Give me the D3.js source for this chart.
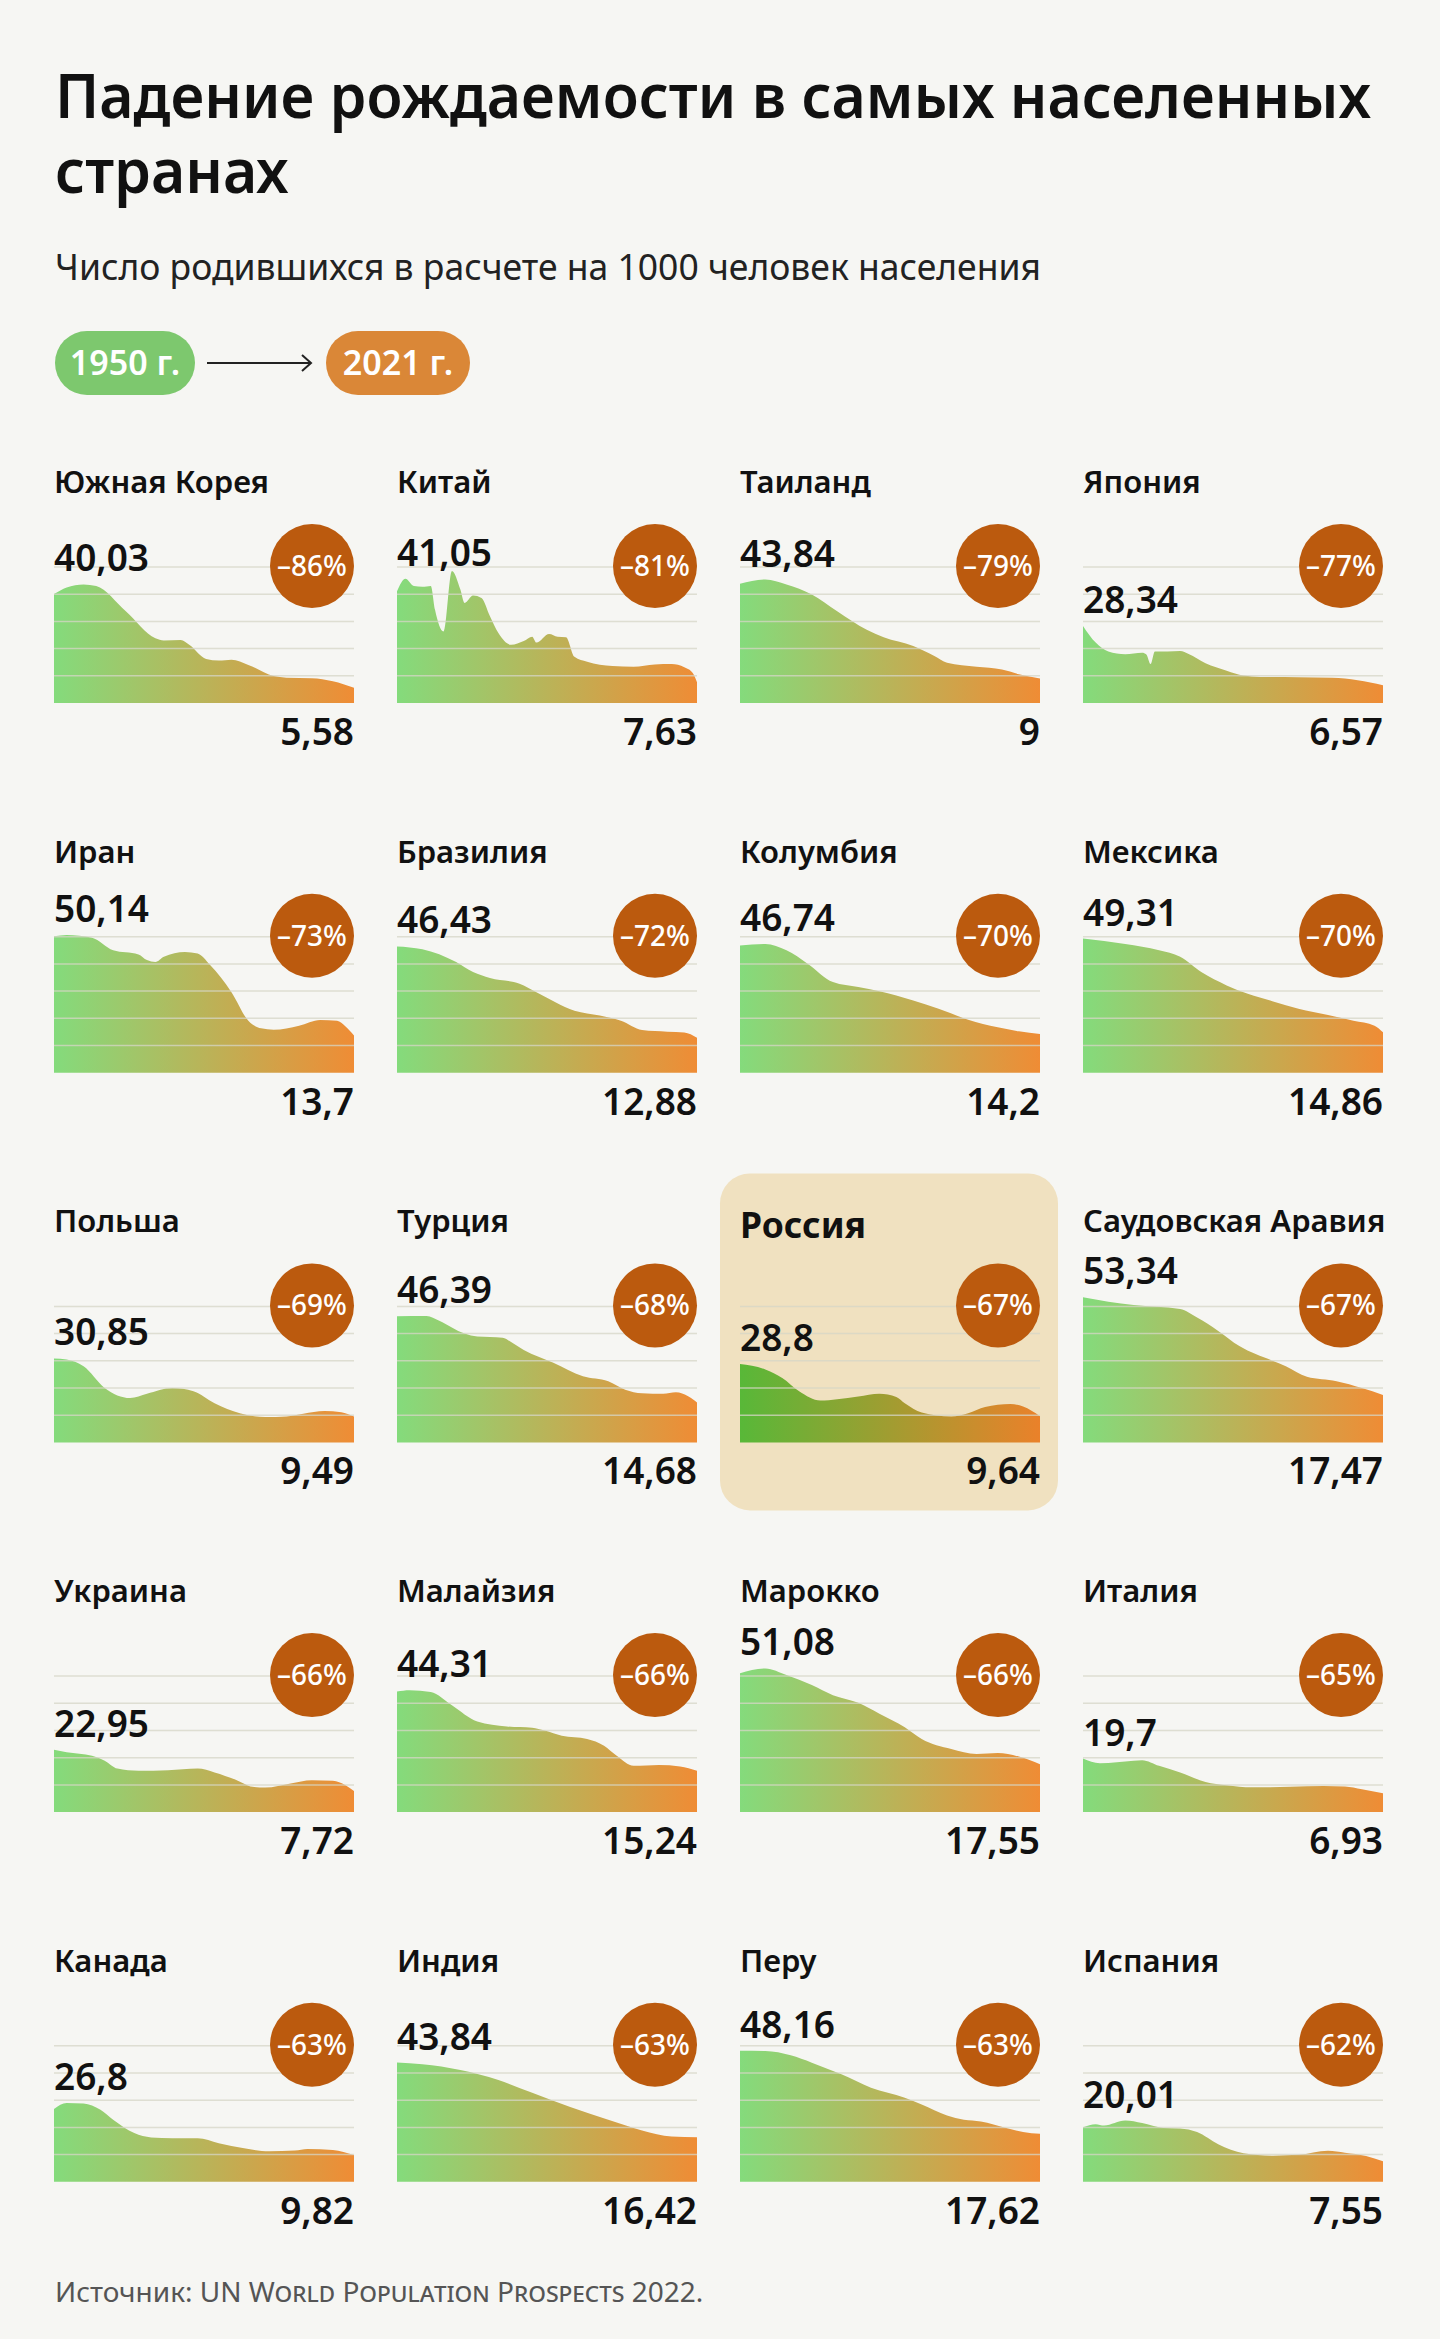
<!DOCTYPE html>
<html>
<head>
<meta charset="utf-8">
<script src="https://cdn.jsdelivr.net/npm/d3@7"></script>
<style>
    body { margin: 0; background: #f6f6f3; }
    text { font-family: "Noto Sans", sans-serif; }
</style>
</head>
<body>
<svg id="chart"></svg>
<script>
// рождаемость на 1000 человек, [год, значение]
var southKorea = [[1950,40.03],[1953,42.5],[1957,43.6],[1960,43],[1967,33.7],[1974,23.8],[1976,23],[1980,23.2],[1982,21.4],[1986,16.2],[1989,15.6],[1992,15.9],[1996,14],[2002,9.9],[2005,9.3],[2011,9.1],[2016,8],[2021,5.58]];
var china = [[1950,41.05],[1952,45.7],[1954,43],[1956,42.7],[1958,43],[1959,34.3],[1961,26.3],[1963,48.5],[1965,41.7],[1966,36.8],[1968,39.5],[1970,38.6],[1972,31.9],[1974,25.7],[1977,21.4],[1980,22.8],[1982,24.4],[1983,22.2],[1986,25.4],[1988,24.4],[1990,24.2],[1992,17],[1995,15.2],[2001,13.6],[2006,13.3],[2011,14.2],[2015,14.3],[2018,13.1],[2020,11],[2021,7.63]];
var thailand = [[1950,43.84],[1956,45.4],[1961,43.6],[1967,39.9],[1973,33.7],[1980,26.9],[1984,24.2],[1991,21],[1996,17.3],[1999,14.8],[2006,13.3],[2012,12.3],[2016,10.6],[2021,9]];
var japan = [[1950,28.34],[1953,22.2],[1956,18.9],[1960,17.9],[1964,18.5],[1965,17.8],[1966,14.3],[1967,18.9],[1970,18.9],[1973,19.1],[1975,18],[1979,14.6],[1984,11.9],[1988,10.1],[1992,9.6],[2001,9.5],[2009,9.3],[2015,8.4],[2021,6.57]];
var iran = [[1950,50.14],[1953,50.6],[1959,49.6],[1964,45],[1970,43.5],[1972,41.4],[1974,40.7],[1976,42.6],[1981,44.4],[1984,43.8],[1987,39.5],[1992,29.6],[1996,19.1],[1999,16.3],[2002,15.8],[2008,17.3],[2013,19.4],[2017,19.1],[2019,17],[2021,13.7]];
var brazil = [[1950,46.43],[1956,45.4],[1964,40.7],[1968,37],[1972,34.8],[1979,32.7],[1983,29.6],[1992,22.8],[1998,21],[2003,19.1],[2008,15.7],[2014,15.1],[2018,14.8],[2021,12.88]];
var colombia = [[1950,46.74],[1956,47.3],[1961,45],[1966,40.1],[1972,33.3],[1978,31.5],[1983,29.9],[1991,26.5],[1997,23.5],[2004,19.5],[2011,16.7],[2016,15.2],[2021,14.2]];
var mexico = [[1950,49.31],[1960,47.3],[1968,45],[1973,42.6],[1978,37],[1984,32.1],[1989,29],[1995,26.2],[2001,23.5],[2008,21.2],[2014,19.1],[2019,17.3],[2021,14.86]];
var poland = [[1950,30.85],[1953,30.5],[1957,28],[1962,20],[1968,16.3],[1972,17.9],[1978,20],[1983,18.8],[1988,14.4],[1994,10.7],[2000,9.3],[2005,9.5],[2009,10.5],[2014,11.5],[2018,11.1],[2021,9.49]];
var turkey = [[1950,46.39],[1957,46.5],[1960,44.7],[1966,40],[1969,38.9],[1975,38.5],[1977,36.9],[1980,34],[1987,29.3],[1994,24.3],[2000,22.5],[2004,19.4],[2008,18.1],[2013,17.9],[2016,18.4],[2019,16.9],[2021,14.68]];
var russia = [[1950,28.8],[1956,26.8],[1960,23.7],[1964,18.8],[1969,15.4],[1973,15.9],[1978,16.9],[1983,17.9],[1987,16.7],[1989,14.4],[1993,11],[2000,9.5],[2004,10.7],[2008,13],[2014,14.1],[2017,13.2],[2021,9.64]];
var saudiArabia = [[1950,53.34],[1956,51.7],[1962,50.5],[1973,49],[1977,45.9],[1982,41],[1987,35.4],[1995,29.9],[1998,28],[2003,24.1],[2010,22.5],[2016,20],[2021,17.47]];
var ukraine = [[1950,22.95],[1953,22],[1959,20.7],[1962,18.9],[1965,16],[1970,15.2],[1977,15.4],[1984,16],[1988,14.6],[1993,11.9],[1997,9.3],[2000,9],[2006,10.5],[2011,11.7],[2016,11.5],[2019,9.9],[2021,7.72]];
var malaysia = [[1950,44.31],[1953,44.8],[1958,44.2],[1963,39.3],[1969,33.3],[1976,31.5],[1982,31],[1985,30],[1989,28.1],[1995,26.9],[1999,24.4],[2002,20.7],[2006,17],[2012,17.3],[2017,16.8],[2021,15.24]];
var morocco = [[1950,51.08],[1956,52.8],[1961,50.4],[1967,46.7],[1972,43],[1978,40.2],[1983,36.2],[1989,31.2],[1993,26.9],[2000,23.2],[2006,21.4],[2011,21.7],[2016,20.4],[2021,17.55]];
var italy = [[1950,19.7],[1954,18],[1962,18.9],[1964,19.1],[1968,17],[1973,14.6],[1979,11.1],[1984,9.9],[1990,9.1],[1999,9.3],[2007,9.6],[2012,9.4],[2016,8.4],[2021,6.93]];
var canada = [[1950,26.8],[1953,29],[1957,28.8],[1961,26.5],[1964,22.8],[1969,17.9],[1973,16.3],[1978,16],[1984,16],[1989,14.2],[1995,12.3],[2001,11.2],[2007,11.5],[2010,12.1],[2016,11.7],[2021,9.82]];
var india = [[1950,43.84],[1956,43.2],[1965,41.1],[1974,37.4],[1982,32.7],[1991,27.5],[2000,22.8],[2008,18.9],[2015,16.7],[2021,16.42]];
var peru = [[1950,48.16],[1956,48.1],[1962,46.5],[1967,43.8],[1974,39.5],[1981,34.6],[1989,30.9],[1993,28.4],[1999,24.4],[2003,22.8],[2007,22.2],[2013,19.8],[2017,18.3],[2021,17.62]];
var spain = [[1950,20.01],[1953,21.2],[1955,20.7],[1960,22.5],[1964,21.6],[1969,19.8],[1973,19.6],[1977,18.3],[1982,13.8],[1988,10.5],[1995,9.6],[2001,9.9],[2008,11.4],[2012,10.7],[2017,9.5],[2021,7.55]];

var countries = ["Южная Корея", "Китай", "Таиланд", "Япония",
                 "Иран", "Бразилия", "Колумбия", "Мексика",
                 "Польша", "Турция", "Россия", "Саудовская Аравия",
                 "Украина", "Малайзия", "Марокко", "Италия",
                 "Канада", "Индия", "Перу", "Испания"];
var series = [southKorea, china, thailand, japan,
              iran, brazil, colombia, mexico,
              poland, turkey, russia, saudiArabia,
              ukraine, malaysia, morocco, italy,
              canada, india, peru, spain];
var highlighted = "Россия";
var gridValues = [10, 20, 30, 40, 50];
var yearLabels = ["1950 г.", "2021 г."];

var W = 1440, H = 2339;
var cellW = 300, cellH = 136;

var svg = d3.select("#chart")
    .attr("width", W)
    .attr("height", H)
    .attr("viewBox", [0, 0, W, H]);

svg.append("rect")
    .attr("width", W)
    .attr("height", H)
    .attr("fill", "#f6f6f3");

var defs = svg.append("defs");
var addGradient = function(id, from, to) {
    var g = defs.append("linearGradient")
        .attr("id", id)
        .attr("x1", 0).attr("x2", 1).attr("y1", 0).attr("y2", 0);
    g.append("stop").attr("offset", "0%").attr("stop-color", from);
    g.append("stop").attr("offset", "100%").attr("stop-color", to);
};
addGradient("fade", "#84db7c", "#ef8c35");
addGradient("fadeRu", "#58b838", "#ea812a");

// заголовок (шрифт в оригинале уже, чем Noto Sans, поэтому сжимаем по ширине)
var head = svg.append("g");
var title = head.append("text")
    .attr("transform", "translate(55,0) scale(0.951,1)")
    .attr("font-size", 62).attr("font-weight", 600).attr("fill", "#111");
title.append("tspan")
    .attr("x", 0).attr("y", 118)
    .text("Падение рождаемости в самых населенных");
title.append("tspan")
    .attr("x", 0).attr("y", 193)
    .text("странах");
head.append("text")
    .attr("x", 55).attr("y", 280)
    .attr("font-size", 35.5).attr("fill", "#222")
    .text("Число родившихся в расчете на 1000 человек населения");

// легенда
var pills = [{x: 55, w: 140, c: "#7dc86e"}, {x: 326, w: 144, c: "#da8737"}];
pills.forEach(function(p, i) {
    head.append("rect")
        .attr("x", p.x).attr("y", 331)
        .attr("width", p.w).attr("height", 64)
        .attr("rx", 32)
        .attr("fill", p.c);
    head.append("text")
        .attr("x", p.x + p.w / 2).attr("y", 375)
        .attr("text-anchor", "middle")
        .attr("font-size", 34).attr("font-weight", 600).attr("fill", "white")
        .text(yearLabels[i]);
});
head.append("path")
    .attr("d", "M207,363H311M302,355L311,363L302,371")
    .attr("fill", "none")
    .attr("stroke", "#222")
    .attr("stroke-width", 2);

var x = d3.scaleLinear().domain([1950, 2021]).range([0, cellW]);
var y = d3.scaleLinear().domain([0, 50]).range([cellH, 0]);

var area = d3.area()
    .x(function(d){ return x(d[0]); })
    .y0(cellH)
    .y1(function(d){ return y(d[1]); })
    .curve(d3.curveMonotoneX);

var fmt = function(v){ return String(v).replace(".", ","); };

var cell = svg.selectAll(".country").data(countries);
var cellGroup = cell.enter()
    .append("g")
    .classed("country", true)
    .attr("transform", function(d, i){
        return "translate(" + (54 + (i % 4) * 343) + "," + (567 + Math.floor(i / 4) * 369.7) + ")";
    });

cellGroup.each(function(name, i) {
    var g = d3.select(this);
    var data = series[i];
    var isRu = name === highlighted;
    var first = data[0][1], last = data[data.length - 1][1];

    if (isRu) {
        g.append("rect")
            .attr("x", -20).attr("y", -133)
            .attr("width", 338).attr("height", 337)
            .attr("rx", 30)
            .attr("fill", "#f0e1c0");
    }

    g.append("text")
        .attr("x", 0)
        .attr("y", isRu ? -68 : -74)
        .attr("font-size", isRu ? 35.5 : 31)
        .attr("font-weight", isRu ? 700 : 600)
        .attr("fill", "#111")
        .text(name);

    g.append("path")
        .datum(data)
        .attr("d", area)
        .attr("fill", isRu ? "url(#fadeRu)" : "url(#fade)");

    g.selectAll(".grid").data(gridValues).enter()
        .append("line")
        .attr("x1", 0).attr("x2", cellW)
        .attr("y1", function(d){ return y(d); })
        .attr("y2", function(d){ return y(d); })
        .attr("stroke", "#d6d5c7")
        .attr("stroke-opacity", 0.75)
        .attr("stroke-width", 1.5);

    var early = d3.max(data.filter(function(d){ return d[0] <= 1962; }), function(d){ return d[1]; });
    g.append("text")
        .attr("x", 0)
        .attr("y", y(early) - 13)
        .attr("font-size", 37).attr("font-weight", 600).attr("fill", "#111")
        .text(fmt(first));

    g.append("text")
        .attr("x", cellW)
        .attr("y", cellH + 42)
        .attr("text-anchor", "end")
        .attr("font-size", 37).attr("font-weight", 600).attr("fill", "#111")
        .text(fmt(last));

    var change = Math.round((last - first) / first * 100);
    g.append("circle")
        .attr("cx", cellW - 42)
        .attr("cy", y(50) - 1)
        .attr("r", 42)
        .attr("fill", "#bb5a0e");
    g.append("text")
        .attr("x", cellW - 42)
        .attr("y", y(50) + 9)
        .attr("text-anchor", "middle")
        .attr("font-size", 28).attr("font-weight", 500).attr("fill", "white")
        .text("–" + Math.abs(change) + "%");
});

var src = svg.append("text")
    .attr("x", 55).attr("y", 2302)
    .attr("font-size", 28).attr("fill", "#555");
src.append("tspan").text("Источник: UN ");
src.append("tspan").style("font-variant", "small-caps").text("World Population Prospects");
src.append("tspan").text(" 2022.");
</script>
</body>
</html>
